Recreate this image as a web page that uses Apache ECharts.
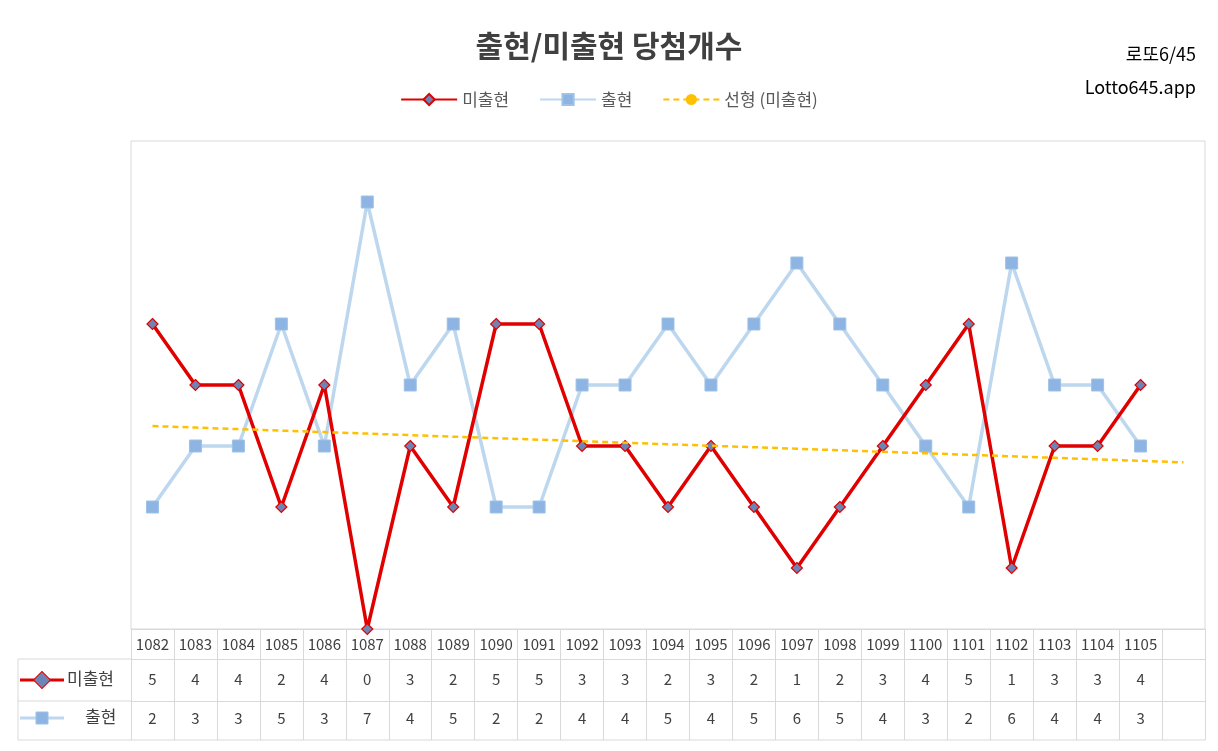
<!DOCTYPE html>
<html><head><meta charset="utf-8">
<script src="https://cdn.jsdelivr.net/npm/echarts@6/dist/echarts.min.js"></script>
<style>html,body{margin:0;background:#fff}#box{width:1218px;height:751px}</style>
</head><body><div id="box"></div>
<script>
var rounds = ['1082','1083','1084','1085','1086','1087','1088','1089','1090','1091','1092','1093','1094','1095','1096','1097','1098','1099','1100','1101','1102','1103','1104','1105']
var missed = [5,4,4,2,4,0,3,2,5,5,3,3,2,3,2,1,2,3,4,5,1,3,3,4]
var hit = [2,3,3,5,3,7,4,5,2,2,4,4,5,4,5,6,5,4,3,2,6,4,4,3]

// 선형 추세선 (한 구간 앞으로 연장)
var n = missed.length
var sx = 0, sy = 0, sxy = 0, sxx = 0
missed.forEach(function (v, i) { var x = i + 1; sx += x; sy += v; sxy += x * v; sxx += x * x })
var slope = (n * sxy - sx * sy) / (n * sxx - sx * sx)
var icpt = (sy - slope * sx) / n
var trend = []
for (var i = 0; i <= n; i++) trend.push(+(icpt + slope * (i + 1)).toFixed(3))

var cats = rounds.concat([''])
var font = 'Noto Sans CJK KR'
var lineC = '#d9d9d9'
function tableAxis(labels, offset, tickLen, margin) {
    return {
        type: 'category', data: labels, position: 'bottom', offset: offset, gridIndex: 0,
        axisLine: { lineStyle: { color: lineC } },
        axisTick: { show: true, length: tickLen, lineStyle: { color: lineC } },
        axisLabel: { interval: 0, margin: margin, color: '#404040', fontSize: 15, fontFamily: font },
        splitLine: { show: false }
    }
}
var Chart = echarts.init(document.getElementById('box'))
var option = {
    animation: false,
    textStyle: { fontFamily: font },
    title: {
        text: '출현/미출현 당첨개수', left: 'center', top: 26,
        textStyle: { fontSize: 30, fontWeight: 'bold', color: '#404040', fontFamily: font }
    },
    legend: {
        top: 86, left: 'center', itemWidth: 56, itemGap: 30,
        textStyle: { fontSize: 17, color: '#595959' },
        data: ['미출현', '출현', '선형 (미출현)']
    },
    grid: { left: 131, right: 13, top: 141, bottom: 122, show: true, borderColor: lineC, borderWidth: 1 },
    xAxis: [
        tableAxis(cats, 0, 30, 8),
        tableAxis(missed.map(String).concat(['']), 30, 42, 13),
        tableAxis(hit.map(String).concat(['']), 72, 39, 10)
    ],
    yAxis: { type: 'value', min: 0, max: 8, show: false, splitLine: { show: false } },
    graphic: [
        { type: 'line', shape: { x1: 18, y1: 659, x2: 131, y2: 659 }, style: { stroke: lineC } },
        { type: 'line', shape: { x1: 18, y1: 701, x2: 131, y2: 701 }, style: { stroke: lineC } },
        { type: 'line', shape: { x1: 18, y1: 740, x2: 1205, y2: 740 }, style: { stroke: lineC } },
        { type: 'line', shape: { x1: 18, y1: 659, x2: 18, y2: 740 }, style: { stroke: lineC } },
        { type: 'line', shape: { x1: 20, y1: 680, x2: 64, y2: 680 }, style: { stroke: '#e00000', lineWidth: 3 } },
        { type: 'rect', shape: { x: 36, y: 674, width: 12, height: 12 }, rotation: Math.PI / 4, originX: 42, originY: 680, style: { fill: '#6d84b4', stroke: '#e00000' } },
        { type: 'text', x: 67, y: 670, style: { text: '미출현', fontSize: 17, fill: '#404040', fontFamily: font } },
        { type: 'line', shape: { x1: 20, y1: 718, x2: 64, y2: 718 }, style: { stroke: '#bdd7ee', lineWidth: 3 } },
        { type: 'rect', shape: { x: 36, y: 712, width: 12, height: 12 }, style: { fill: '#8eb4e3', stroke: '#9dc3e6' } },
        { type: 'text', x: 85, y: 708, style: { text: '출현', fontSize: 17, fill: '#404040', fontFamily: font } },
        { type: 'text', right: 22, top: 45, style: { text: '로또6/45', fontSize: 18, fill: '#000', fontFamily: font } },
        { type: 'text', right: 22, top: 78, style: { text: 'Lotto645.app', fontSize: 18, fill: '#000', fontFamily: font } }
    ],
    series: [
        {
            name: '출현', type: 'line', data: hit, symbol: 'rect', symbolSize: 12, z: 2,
            lineStyle: { color: '#bdd7ee', width: 3.5 },
            itemStyle: { color: '#8eb4e3', borderColor: '#9dc3e6', borderWidth: 1 }
        },
        {
            name: '미출현', type: 'line', data: missed, symbol: 'diamond', symbolSize: 11, z: 3,
            lineStyle: { color: '#e00000', width: 3.5 },
            itemStyle: { color: '#6d84b4', borderColor: '#e00000', borderWidth: 1.2 }
        },
        {
            name: '선형 (미출현)', type: 'line', data: trend, symbol: 'none', z: 4,
            lineStyle: { color: '#ffc000', width: 2.5, type: [6, 4] },
            itemStyle: { color: '#ffc000' }
        }
    ]
}
Chart.setOption(option)
</script>
</body></html>
